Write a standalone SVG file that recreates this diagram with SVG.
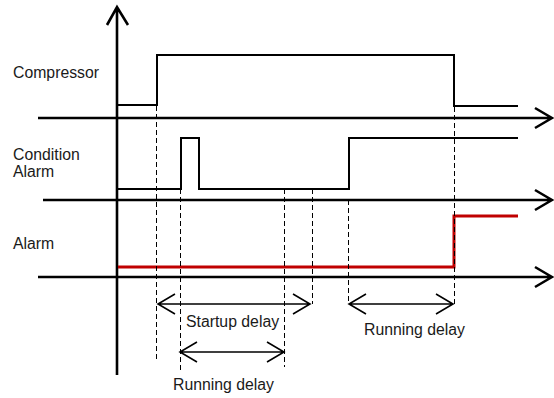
<svg xmlns="http://www.w3.org/2000/svg" width="554" height="398" viewBox="0 0 554 398">
<style>
.axis{stroke:#000;stroke-width:2.6;fill:none}
.sig{stroke:#000;stroke-width:2;fill:none}
.red{stroke:#c00000;stroke-width:3;fill:none}
.dash{stroke:#000;stroke-width:1;stroke-dasharray:5 3;fill:none}
.dim{stroke:#000;stroke-width:1.6;fill:none}
text{font-family:"Liberation Sans",Arial,sans-serif;font-size:15.8px;fill:#1a1a1a}
</style>
<rect width="554" height="398" fill="#fff"/>
<g id="axes">
<path class="axis" d="M117,375 V7 M107,25 L117,7 L128,25"/>
<path class="axis" d="M38,118 H552 M535,108 L552,118 L535,128"/>
<path class="axis" d="M43,200 H552 M535,190 L552,200 L535,210"/>
<path class="axis" d="M38,277 H552 M535,267 L552,277 L535,287"/>
</g>
<g id="signals">
<path class="sig" d="M118,105 H157 V55 H454 V106 H518"/>
<path class="sig" d="M118,189 H181 V138 H199 V189 H349 V138 H518"/>
<path class="red" d="M118,267 H454 V216 H518"/>
</g>
<g id="connectors">
<path class="dash" d="M156.5,106 V360"/>
<path class="dash" d="M180.5,189 V370"/>
<path class="dash" d="M284.5,189 V367"/>
<path class="dash" d="M312.5,189 V304"/>
<path class="dash" d="M348.5,200 V304"/>
<path class="dash" d="M454.5,107 V304"/>
<path class="dim" d="M158,304 H310 M175,294 L158,304 L175,314 M293,294 L310,304 L293,314"/>
<path class="dim" d="M180,352 H284 M197,342 L180,352 L197,362 M267,342 L284,352 L267,362"/>
<path class="dim" d="M349,304 H453 M366,294 L349,304 L366,314 M436,294 L453,304 L436,314"/>
</g>
<g id="labels">
<text x="13" y="77.5">Compressor</text>
<text x="13" y="159.5">Condition</text>
<text x="13" y="176.7">Alarm</text>
<text x="13" y="249">Alarm</text>
<text x="186" y="327">Startup delay</text>
<text x="173" y="390">Running delay</text>
<text x="364" y="335">Running delay</text>
</g>
</svg>
